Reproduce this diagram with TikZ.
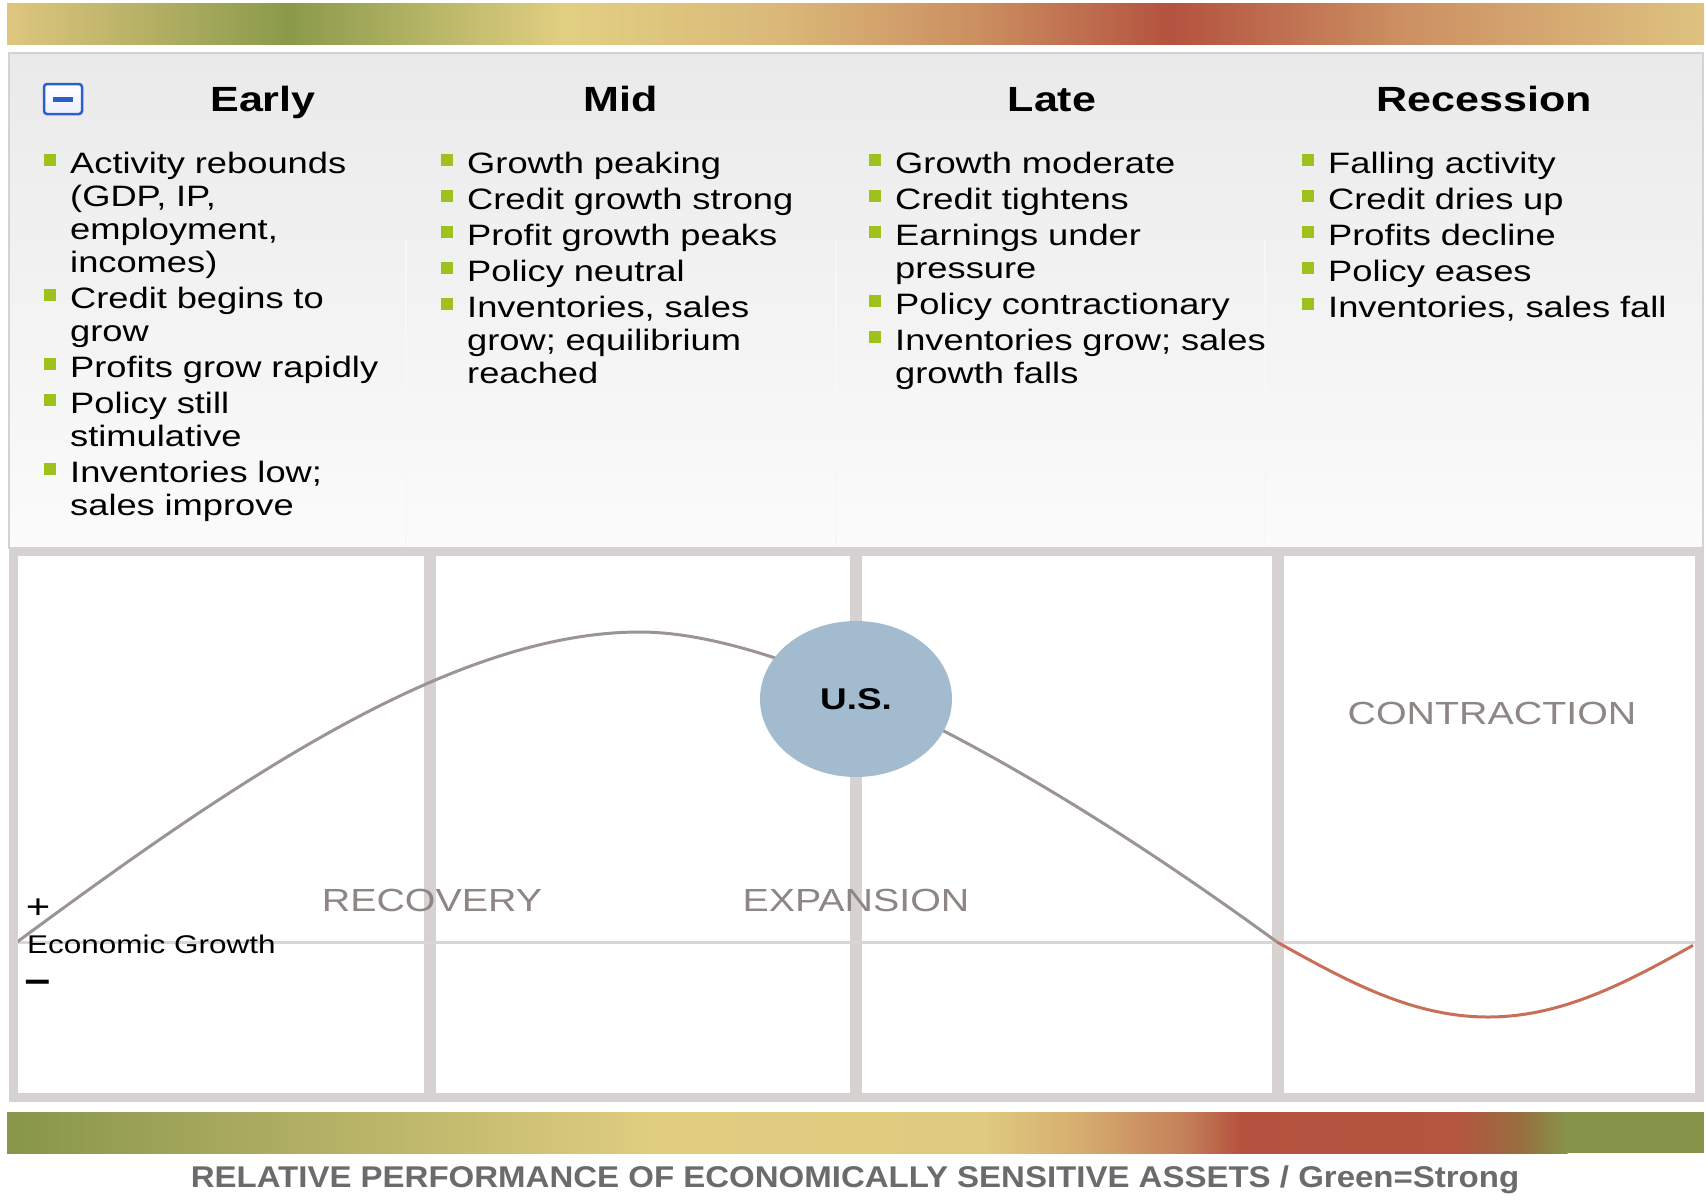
\documentclass[tikz,border=0pt]{standalone}
\usepackage{fontspec}
\setmainfont{Liberation Sans}
\newfontfamily\bodyfont[FakeStretch=1.23]{Liberation Sans}
\newfontfamily\footfont[FakeStretch=1.10]{Liberation Sans}
\usetikzlibrary{shapes.geometric}
\definecolor{tA}{HTML}{DFC67F}
\definecolor{tB}{HTML}{8A9A4A}
\definecolor{tC}{HTML}{E2CF82}
\definecolor{tD}{HTML}{DAB878}
\definecolor{tE}{HTML}{CB8E60}
\definecolor{tF}{HTML}{B4523F}
\definecolor{tG}{HTML}{CC8F62}
\definecolor{tH}{HTML}{DEC27F}
\definecolor{bA}{HTML}{87964A}
\definecolor{bB}{HTML}{A7A95E}
\definecolor{bC}{HTML}{C2BA6E}
\definecolor{bD}{HTML}{E0CD80}
\definecolor{bE}{HTML}{DFCB7F}
\definecolor{bF}{HTML}{D6AE70}
\definecolor{bG}{HTML}{C47F58}
\definecolor{bH}{HTML}{B5523F}
\definecolor{bI}{HTML}{B3553F}
\definecolor{bJ}{HTML}{97703F}
\definecolor{bK}{HTML}{869449}
\definecolor{framegray}{HTML}{D6D2D2}
\definecolor{panelborder}{HTML}{D3D3D3}
\definecolor{paneltop}{HTML}{EAEAEA}
\definecolor{panelbot}{HTML}{FBFBFB}
\definecolor{curvegray}{HTML}{9C9494}
\definecolor{curvered}{HTML}{C86F58}
\definecolor{usblue}{HTML}{A3BBCE}
\definecolor{labelgray}{HTML}{8E8585}
\definecolor{footgray}{HTML}{6B6B6B}
\definecolor{bulletgreen}{HTML}{9EC11B}
\definecolor{iconblue}{HTML}{2B5FC9}
\tikzset{
  item/.style={anchor=base west, inner sep=0pt, text width=480pt, align=left,
    font=\bodyfont\fontsize{29.5}{33}\selectfont},
  header/.style={anchor=base, inner sep=0pt, font=\bodyfont\bfseries\fontsize{35}{40}\selectfont},
  phase/.style={anchor=base, inner sep=0pt, text=labelgray, font=\bodyfont\fontsize{32}{36}\selectfont},
  sign/.style={inner sep=0pt, font=\bodyfont\fontsize{34}{38}\selectfont},
}
\newcommand{\bulsq}[2]{\fill[bulletgreen] (#1-6,#2-19) rectangle (#1+6,#2-7);}
\begin{document}
\begin{tikzpicture}[x=1pt,y=-1pt]
\useasboundingbox (0,0) rectangle (1706,1202);
\fill[white] (0,0) rectangle (1706,1202);
% top gradient bar
\shade[left color=tA,right color=tB] (7,3) rectangle (288.5,44);
\shade[left color=tB,right color=tC] (288,3) rectangle (566.5,44);
\shade[left color=tC,right color=tD] (566,3) rectangle (780.5,44);
\shade[left color=tD,right color=tE] (780,3) rectangle (980.5,44);
\shade[left color=tE,right color=tF] (980,3) rectangle (1170.5,44);
\shade[left color=tF,right color=tG] (1170,3) rectangle (1400.5,44);
\shade[left color=tG,right color=tH] (1400,3) rectangle (1704,44);
% top panel
\shade[top color=paneltop,bottom color=panelbot] (9,53) rectangle (1703,548);
\draw[panelborder,line width=2.5pt] (9,53) rectangle (1703,548);
\foreach \px in {406,836,1265} \draw[white!60!paneltop,line width=1.5pt] (\px,240) -- (\px,546);
% icon
\draw[iconblue,line width=2.5pt,rounded corners=3pt,top color=white,bottom color=blue!6] (44,84) rectangle (82,114);
\fill[iconblue] (53,97) rectangle (73,102);
% headers
\node[header] (hEarly) at (263,111) {Early};
\node[header] (hMid) at (621,111) {Mid};
\node[header] (hLate) at (1052,111) {Late};
\node[header] (hRec) at (1484,111) {Recession};
% items
\foreach \x/\y/\t [count=\i] in {
  70/173/{Activity rebounds\\(GDP, IP,\\employment,\\incomes)},
  70/308/{Credit begins to\\grow},
  70/377/{Profits grow rapidly},
  70/413/{Policy still\\stimulative},
  70/482/{Inventories low;\\sales improve},
  467/173/{Growth peaking},
  467/209/{Credit growth strong},
  467/245/{Profit growth peaks},
  467/281/{Policy neutral},
  467/317/{Inventories, sales\\grow; equilibrium\\reached},
  895/173/{Growth moderate},
  895/209/{Credit tightens},
  895/245/{Earnings under\\pressure},
  895/314/{Policy contractionary},
  895/350/{Inventories grow; sales\\growth falls},
  1328/173/{Falling activity},
  1328/209/{Credit dries up},
  1328/245/{Profits decline},
  1328/281/{Policy eases},
  1328/317/{Inventories, sales fall}} {
  \node[item] (item\i) at (\x,\y) {\t};
  \bulsq{\x-20}{\y}
}
% chart
\fill[white] (13,552) rectangle (1699,1097);
\foreach \dx [count=\j] in {430,856,1277.5} \draw[framegray,line width=12pt] (\dx,552) -- (\dx,1097);
\draw[framegray!90!white,line width=3pt] (13,942) -- (1699,942);
\coordinate (cstart) at (17,942);
\coordinate (cpeak) at (640,632);
\coordinate (ccross) at (1277,942);
\coordinate (cend) at (1693,945);
\draw[curvegray,line width=3pt] (cstart) .. controls (230,785) and (450,632) .. (cpeak)
  .. controls (760,632) and (977,723) .. (ccross);
\draw[curvered,line width=3pt] plot[domain=1277:1693,samples=80,smooth] (\x,{942+75*sin((\x-1277)/422*180)});
\node[ellipse,fill=usblue,minimum width=192pt,minimum height=156pt,inner sep=0pt,
  font=\bodyfont\bfseries\fontsize{30}{34}\selectfont] (us) at (856,699) {U.S.};
\node[phase] (recovery) at (432,911) {RECOVERY};
\node[phase] (expansion) at (856,911) {EXPANSION};
\node[phase] (contraction) at (1492,724) {CONTRACTION};
\node[anchor=base west,inner sep=0pt,font=\bodyfont\fontsize{25.6}{30}\selectfont] (eg) at (27,953) {Economic Growth};
\node[sign] (plus) at (38,909) {+};
\node[sign,font=\bodyfont\bfseries\fontsize{37}{40}\selectfont] (minus) at (38,987) {−};
\draw[framegray,line width=9pt] (13,551.5) rectangle (1699,1097.5);
% bottom bar
\shade[left color=bA,right color=bB] (7,1112) rectangle (230.5,1153);
\shade[left color=bB,right color=bC] (230,1112) rectangle (435.5,1153);
\shade[left color=bC,right color=bD] (435,1112) rectangle (653.5,1153);
\shade[left color=bD,right color=bE] (653,1112) rectangle (980.5,1153);
\shade[left color=bE,right color=bF] (980,1112) rectangle (1077.5,1153);
\shade[left color=bF,right color=bG] (1077,1112) rectangle (1186.5,1153);
\shade[left color=bG,right color=bH] (1186,1112) rectangle (1240.5,1153);
\shade[left color=bH,right color=bI] (1240,1112) rectangle (1458.5,1153);
\shade[left color=bI,right color=bJ] (1458,1112) rectangle (1523.5,1153);
\shade[left color=bJ,right color=bK] (1523,1112) rectangle (1567.5,1153);
\fill[bK] (1567,1112) rectangle (1704,1153);
\node[anchor=base,inner sep=0pt,text=footgray,font=\footfont\bfseries\fontsize{30}{36}\selectfont] (foot) at (855,1187) {RELATIVE PERFORMANCE OF ECONOMICALLY SENSITIVE ASSETS / Green=Strong};
\end{tikzpicture}
\end{document}
